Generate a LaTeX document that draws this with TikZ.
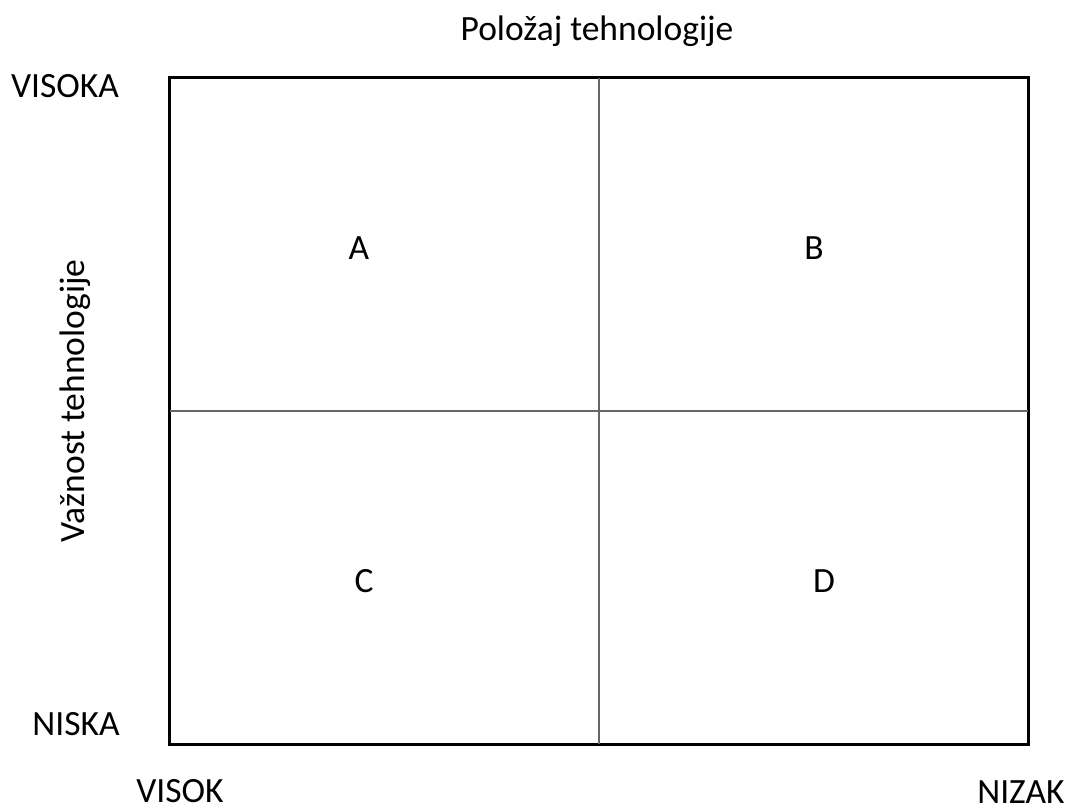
\documentclass[tikz,border=0pt]{standalone}
\usepackage{fontspec}
\setmainfont{Carlito}
\begin{document}
\begin{tikzpicture}[x=1pt,y=-1pt,
  lbl/.style={font=\fontsize{35.5}{42}\selectfont, inner sep=0pt, anchor=base},
  outer/.style={draw=black, line width=2pt},
  inner/.style={draw=black!60, line width=1.2pt}]
\useasboundingbox (0,0) rectangle (1069,809);
\node[outer, minimum width=858pt, minimum height=666pt, inner sep=0pt] (box) at (599,411) {};
\coordinate (tm) at (599,78);
\coordinate (bm) at (599,744);
\coordinate (lm) at (170,411);
\coordinate (rm) at (1028,411);
\draw[inner] (tm) -- (bm);
\draw[inner] (lm) -- (rm);
\draw[outer] (box.north west) rectangle (box.south east);
\node[lbl] (title) at (597,40) {Položaj tehnologije};
\node[lbl, rotate=90] (yaxis) at (84,401) {Važnost tehnologije};
\node[lbl] (vhi) at (65,97) {VISOKA};
\node[lbl] (vlo) at (76,735) {NISKA};
\node[lbl] (hhi) at (180,802) {VISOK};
\node[lbl] (hlo) at (1021,803) {NIZAK};
\node[lbl] (A) at (359,259) {A};
\node[lbl] (B) at (814,259) {B};
\node[lbl] (C) at (364,592) {C};
\node[lbl] (D) at (824,592) {D};
\end{tikzpicture}
\end{document}
